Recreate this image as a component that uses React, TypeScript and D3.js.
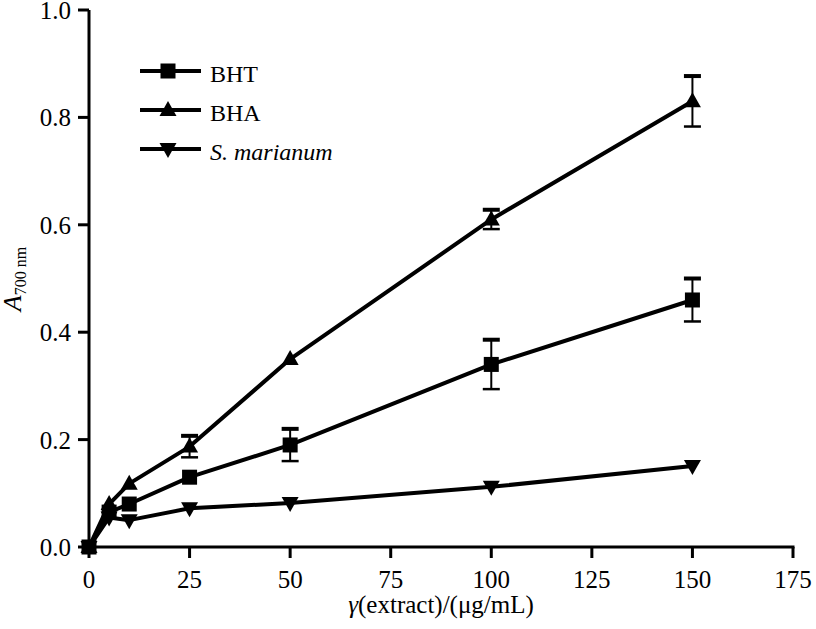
import React from "react";
import * as d3 from "d3";

const concentrations = [0, 5, 10, 25, 50, 100, 150];
const bhtValues = [0, 0.065, 0.08, 0.13, 0.19, 0.34, 0.46];
const bhtErrors = [0, 0, 0, 0, 0.03, 0.046, 0.04];
const bhaValues = [0, 0.08, 0.118, 0.187, 0.35, 0.61, 0.83];
const bhaErrors = [0, 0, 0, 0.02, 0, 0.018, 0.047];
const smValues = [0, 0.055, 0.05, 0.072, 0.082, 0.112, 0.151];
const smErrors = [0, 0, 0, 0, 0, 0, 0];
const xTicks = [0, 25, 50, 75, 100, 125, 150, 175];
const yTicks = [0, 0.2, 0.4, 0.6, 0.8, 1.0];
const seriesNames = ["BHT", "BHA", "S. marianum"];

const FONT = "Liberation Serif, DejaVu Serif, serif";

type Shape = "square" | "up" | "down";

function Marker({ x, y, shape }: { x: number; y: number; shape: Shape }) {
  if (shape === "square") return <rect x={x - 7.5} y={y - 7.5} width={15} height={15} fill="#000" />;
  if (shape === "up") return <path d={`M${x},${y - 9} L${x + 8.5},${y + 6} L${x - 8.5},${y + 6} Z`} fill="#000" />;
  return <path d={`M${x},${y + 9} L${x + 8.5},${y - 6} L${x - 8.5},${y - 6} Z`} fill="#000" />;
}

export default function App() {
  const x = d3.scaleLinear().domain([0, 175]).range([89, 793]);
  const y = d3.scaleLinear().domain([0, 1]).range([547, 10]);
  const series = [
    { name: seriesNames[0], values: bhtValues, errors: bhtErrors, shape: "square" as Shape },
    { name: seriesNames[1], values: bhaValues, errors: bhaErrors, shape: "up" as Shape },
    { name: seriesNames[2], values: smValues, errors: smErrors, shape: "down" as Shape },
  ];
  const line = d3.line<number>().x((_, i) => x(concentrations[i])).y((d) => y(d));
  const legendY = [71, 110, 149];

  return (
    <svg width={816} height={629} style={{ position: "absolute", left: 0, top: 0, background: "#fff", fontFamily: FONT }}>
      {/* axes */}
      <line x1={89} x2={89} y1={y(1)} y2={y(0)} stroke="#000" strokeWidth={3} />
      <line x1={87.5} x2={x(175) + 1.5} y1={y(0)} y2={y(0)} stroke="#000" strokeWidth={3} />
      {yTicks.map((t) => (
        <g key={"y" + t}>
          <line x1={78} x2={89} y1={y(t)} y2={y(t)} stroke="#000" strokeWidth={3} />
          <text x={71} y={y(t) + 9} fontSize={25} textAnchor="end" style={{ fontFamily: FONT }}>{d3.format(".1f")(t)}</text>
        </g>
      ))}
      {xTicks.map((t) => (
        <g key={"x" + t}>
          <line x1={x(t)} x2={x(t)} y1={y(0)} y2={y(0) + 11} stroke="#000" strokeWidth={3} />
          <text x={x(t)} y={588} fontSize={25} textAnchor="middle" style={{ fontFamily: FONT }}>{t}</text>
        </g>
      ))}
      <text x={441} y={613} fontSize={25} textAnchor="middle" style={{ fontFamily: FONT }}>
        <tspan fontStyle="italic">γ</tspan>(extract)/(μg/mL)
      </text>
      <text transform="translate(21,279) rotate(-90)" fontSize={26} textAnchor="middle" style={{ fontFamily: FONT }}>
        <tspan fontStyle="italic">A</tspan>
        <tspan fontSize={16} dy={5}>700 nm</tspan>
      </text>

      {/* series lines */}
      {series.map((s) => (
        <path key={"l" + s.name} d={line(s.values) || ""} fill="none" stroke="#000" strokeWidth={4} strokeLinejoin="round" />
      ))}
      {/* error bars */}
      {series.map((s) =>
        s.values.map((v, i) =>
          s.errors[i] > 0 ? (
            <g key={"e" + s.name + i}>
              <line x1={x(concentrations[i])} x2={x(concentrations[i])} y1={y(v + s.errors[i])} y2={y(v - s.errors[i])} stroke="#000" strokeWidth={2} />
              <line x1={x(concentrations[i]) - 8.5} x2={x(concentrations[i]) + 8.5} y1={y(v + s.errors[i])} y2={y(v + s.errors[i])} stroke="#000" strokeWidth={4} />
              <line x1={x(concentrations[i]) - 8.5} x2={x(concentrations[i]) + 8.5} y1={y(v - s.errors[i])} y2={y(v - s.errors[i])} stroke="#000" strokeWidth={2.5} />
            </g>
          ) : null
        )
      )}
      {/* markers */}
      {series.map((s) =>
        s.values.map((v, i) => <Marker key={"m" + s.name + i} x={x(concentrations[i])} y={y(v)} shape={s.shape} />)
      )}

      {/* legend */}
      {series.map((s, i) => (
        <g key={"lg" + s.name}>
          <line x1={140} x2={201} y1={legendY[i]} y2={legendY[i]} stroke="#000" strokeWidth={4} />
          <Marker x={168} y={legendY[i]} shape={s.shape} />
          <text x={210} y={legendY[i] + 11} fontSize={24} fontStyle={i === 2 ? "italic" : "normal"} style={{ fontFamily: FONT }}>{s.name}</text>
        </g>
      ))}
    </svg>
  );
}
